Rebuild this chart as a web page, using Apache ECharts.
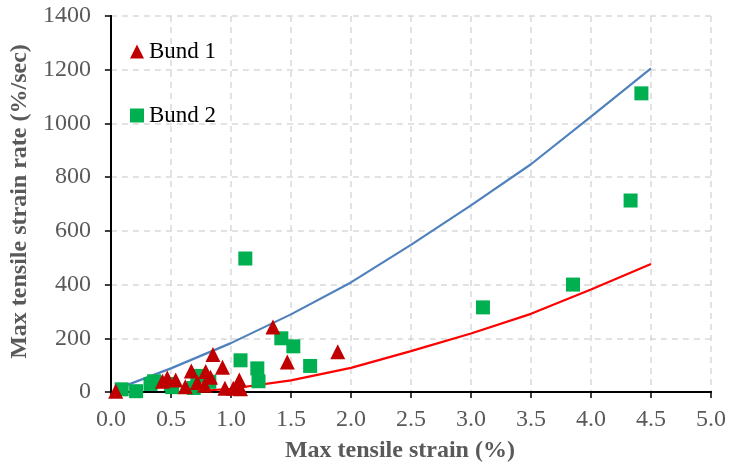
<!DOCTYPE html>
<html><head><meta charset="utf-8">
<script src="https://cdn.jsdelivr.net/npm/echarts@6/dist/echarts.min.js"></script>
<style>html,body{margin:0;padding:0;background:#fff}#c{width:729px;height:468px}</style>
</head><body><div id="c"></div>
<script>
const bund1 = [[0.04,3],[0.43,40],[0.47,52],[0.54,45],[0.62,20],[0.67,78],[0.72,35],[0.78,25],[0.79,76],[0.83,55],[0.85,140],[0.93,92],[0.95,14],[1.02,14],[1.07,45],[1.08,12],[1.35,242],[1.47,112],[1.89,150]];
const bund2 = [[0.09,10],[0.21,3],[0.33,30],[0.36,40],[0.50,30],[0.51,18],[0.69,15],[0.72,60],[0.82,38],[1.08,118],[1.12,497],[1.22,88],[1.23,40],[1.42,200],[1.52,170],[1.66,97],[3.10,315],[3.85,400],[4.33,713],[4.42,1112]];
const upperLine = [[0.1,20],[0.5,88],[1.0,182],[1.5,289],[2.0,408],[2.5,548],[3.0,695],[3.5,848],[4.0,1025],[4.5,1205]];
const lowerLine = [[0.7,2],[1.0,12],[1.5,43],[2.0,90],[2.5,152],[3.0,218],[3.5,291],[4.0,382],[4.5,477]];
const xTicks = {min:0, max:5, interval:0.5};
const yTicks = {min:0, max:1400, interval:200};

const serif = '"Liberation Serif","DejaVu Serif",serif';
const grey = '#595959';
const dash = {color:'#d9d9d9',type:[6,5],width:1.5};
const chart = echarts.init(document.getElementById('c'));
chart.setOption({
  animation:false,
  grid:{left:108,right:17,top:16,bottom:76},
  legend:{data:[{name:'Bund 1',icon:'triangle'},{name:'Bund 2',icon:'rect'}],orient:'vertical',left:125,top:35,itemWidth:14,itemHeight:14,itemGap:41,
    textStyle:{fontFamily:serif,fontSize:23,color:'#000'}},
  xAxis:[{type:'value',min:xTicks.min,max:xTicks.max,interval:xTicks.interval,
    name:'Max tensile strain (%)',nameLocation:'middle',nameGap:47,
    nameTextStyle:{fontFamily:serif,fontSize:24,fontWeight:'bold',color:grey,padding:[0,22,0,0]},
    axisLine:{lineStyle:{color:'#000',width:2}},
    axisTick:{show:true,length:6,lineStyle:{color:'#000',width:1.5}},
    axisLabel:{fontFamily:serif,fontSize:24,color:grey,margin:16,formatter:v=>v.toFixed(1)},
    splitLine:{show:true,lineStyle:dash}},
   {type:'value',position:'top',min:xTicks.min,max:xTicks.max,interval:xTicks.interval,
    axisLine:{show:true,lineStyle:{color:'#000',width:2}},axisTick:{show:false},axisLabel:{show:false},splitLine:{show:false}}],
  yAxis:[{type:'value',min:yTicks.min,max:yTicks.max,interval:yTicks.interval,
    name:'Max tensile strain rate (%/sec)',nameLocation:'middle',nameGap:74,
    nameTextStyle:{fontFamily:serif,fontSize:24,fontWeight:'bold',color:grey,padding:[0,0,0,5]},
    axisLine:{show:true,lineStyle:{color:'#000',width:2}},
    axisTick:{show:true,length:6,lineStyle:{color:'#000',width:1.5}},
    axisLabel:{fontFamily:serif,fontSize:24,color:grey,margin:20,formatter:v=>String(v)},
    splitLine:{show:true,lineStyle:dash}},
   {type:'value',position:'right',min:yTicks.min,max:yTicks.max,interval:yTicks.interval,
    axisLine:{show:true,lineStyle:{color:'#000',width:2}},axisTick:{show:false},axisLabel:{show:false},splitLine:{show:false}}],
  series:[
    {name:'upper',type:'line',data:upperLine,showSymbol:false,symbol:'none',smooth:false,lineStyle:{color:'#4F81BD',width:2.2},z:1},
    {name:'lower',type:'line',data:lowerLine,showSymbol:false,symbol:'none',smooth:false,lineStyle:{color:'#FF0000',width:2.2},z:1},
    {name:'Bund 2',type:'scatter',data:bund2,symbol:'rect',symbolSize:14,itemStyle:{color:'#00B050',opacity:1},z:3},
    {name:'Bund 1',type:'scatter',data:bund1,symbol:'triangle',symbolSize:15,itemStyle:{color:'#C00000',opacity:1},z:4}
  ]
});
</script></body></html>
